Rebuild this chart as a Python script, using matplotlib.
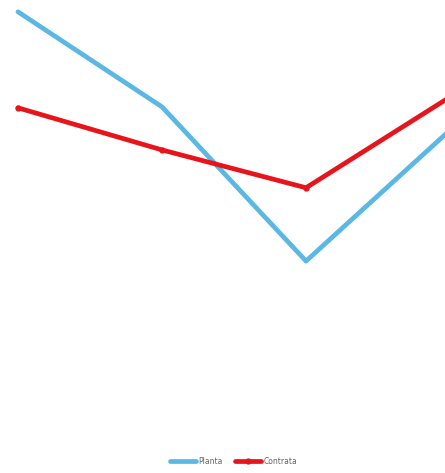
import matplotlib
matplotlib.use("Agg")
import matplotlib.pyplot as plt

categories = [0, 1, 2, 3]
planta = [97.5, 77.4, 44.8, 72.5]
contrata = [77.2, 68.3, 60.3, 79.5]

fig = plt.figure(figsize=(4.45, 4.73), dpi=100)
ax = fig.add_axes([0, 0, 1, 1])

ax.plot(categories, planta, color="#5ab8e2", linewidth=3.4, label="Planta",
        solid_capstyle="round")
ax.plot(categories, contrata, color="#e8141b", linewidth=3.4, marker="o",
        markersize=3.5, label="Contrata", solid_capstyle="round")

ax.set_xlim(-0.125, 2.965)
ax.set_ylim(0, 100)
ax.axis("off")

fig.legend(loc="lower center", bbox_to_anchor=(0.525, 0.0), ncol=2, frameon=False,
           fontsize=5.5, handlelength=3.4, handletextpad=0.3, columnspacing=1.6,
           labelcolor="#666666")

fig.savefig("out.png", dpi=100)
